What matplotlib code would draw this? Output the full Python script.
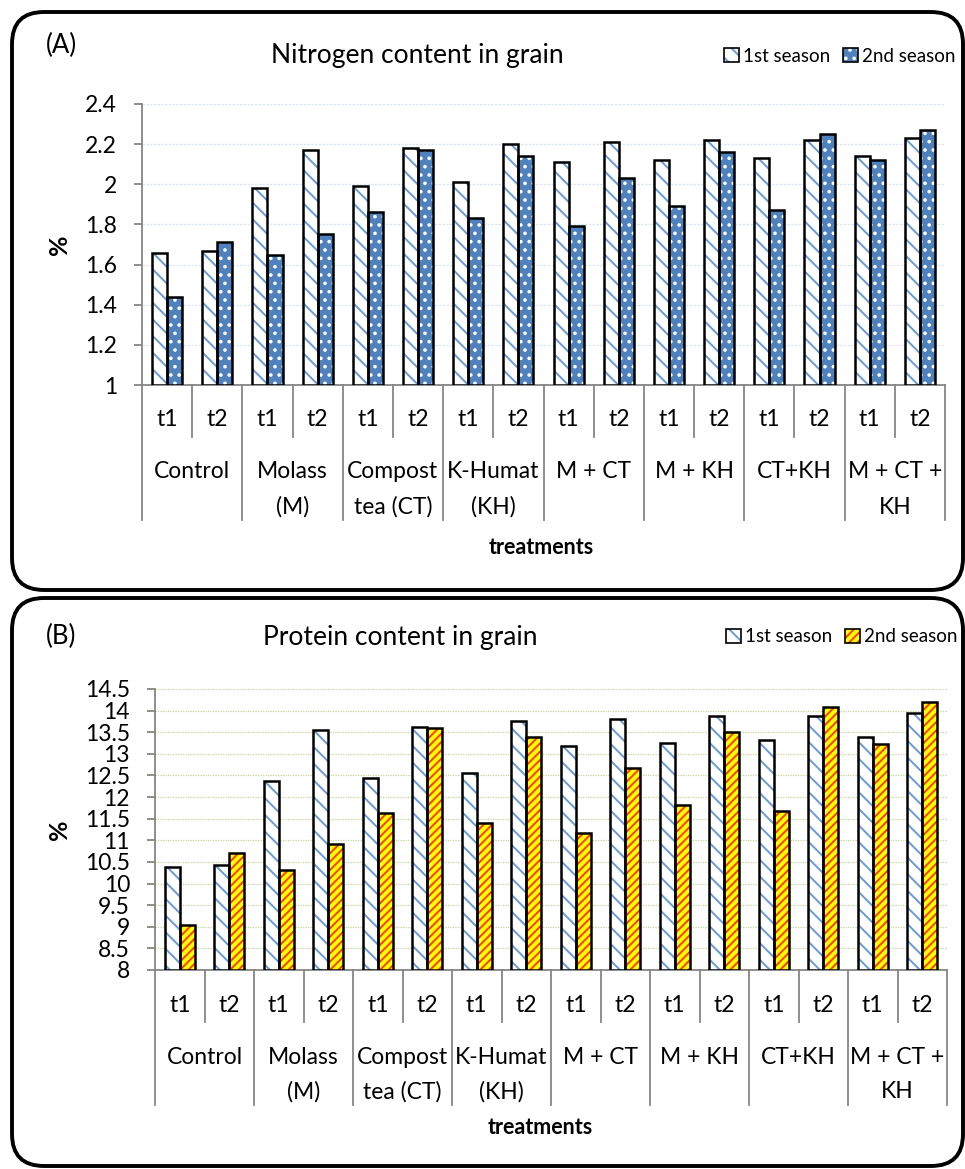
import matplotlib
matplotlib.use("Agg")
import matplotlib.pyplot as plt
import matplotlib.transforms as mtransforms
from matplotlib.patches import FancyBboxPatch, Patch
import numpy as np

plt.rcParams['font.family'] = ['Lato', 'DejaVu Sans']
plt.rcParams['hatch.linewidth'] = 1.4

# ---------------- data ----------------
groups = ["Control", "Molass\n(M)", "Compost\ntea (CT)", "K-Humat\n(KH)",
          "M + CT", "M + KH", "CT+KH", "M + CT +\nKH"]
times = ["t1", "t2"]
series_names = ["1st season", "2nd season"]

nitrogen_s1 = [1.66, 1.67, 1.98, 2.17, 1.99, 2.18, 2.01, 2.20,
               2.11, 2.21, 2.12, 2.22, 2.13, 2.22, 2.14, 2.23]
nitrogen_s2 = [1.44, 1.71, 1.65, 1.75, 1.86, 2.17, 1.83, 2.14,
               1.79, 2.03, 1.89, 2.16, 1.87, 2.25, 2.12, 2.27]

protein_s1 = [10.38, 10.44, 12.38, 13.56, 12.44, 13.63, 12.56, 13.75,
              13.19, 13.81, 13.25, 13.88, 13.31, 13.88, 13.38, 13.94]
protein_s2 = [9.03, 10.70, 10.31, 10.91, 11.63, 13.59, 11.41, 13.38,
              11.16, 12.67, 11.81, 13.51, 11.68, 14.09, 13.22, 14.19]

W, H = 965, 1169
fig = plt.figure(figsize=(W / 100, H / 100), dpi=100)

def fx(px):
    return px / W

def fy(py):
    return 1 - py / H

GRAY = '#868686'
FS = 16.5


def panel_box(x0, y0, x1, y1):
    box = FancyBboxPatch((x0, H - y1), x1 - x0, y1 - y0,
                         boxstyle="round,pad=0,rounding_size=32",
                         transform=mtransforms.IdentityTransform(),
                         facecolor='none', edgecolor='black', linewidth=2.8,
                         zorder=0)
    fig.add_artist(box)


def draw_panel(rect, s1, s2, ylim, yticks, yticklabels, grid_color, grid_ls,
               s1_style, s2_style):
    ax = fig.add_axes(rect)
    n = len(groups) * len(times)
    x = np.arange(n)
    bw = 0.3
    for vals, off, st in ((s1, -bw / 2, s1_style), (s2, bw / 2, s2_style)):
        ax.bar(x + off, np.array(vals) - ylim[0], bw, bottom=ylim[0],
               color=st['face'], edgecolor=st['hatchcolor'], hatch=st['hatch'],
               linewidth=0, zorder=3)
        ax.bar(x + off, np.array(vals) - ylim[0], bw, bottom=ylim[0],
               fill=False, edgecolor='black', linewidth=1.8, zorder=4)
    ax.set_xlim(-0.5, n - 0.5)
    ax.set_ylim(*ylim)
    ax.set_yticks(yticks)
    ax.set_yticklabels(yticklabels, fontsize=FS)
    ax.tick_params(axis='y', direction='out', length=6, width=1.3,
                   color=GRAY, pad=12)
    ax.set_xticks([])
    for s in ('top', 'right'):
        ax.spines[s].set_visible(False)
    for s in ('left', 'bottom'):
        ax.spines[s].set_color(GRAY)
        ax.spines[s].set_linewidth(1.3)
    ax.grid(axis='y', color=grid_color, linestyle=grid_ls, linewidth=0.9,
            zorder=1)
    ax.set_axisbelow(True)

    # multi-level category axis
    trans = mtransforms.blended_transform_factory(ax.transData,
                                                  mtransforms.IdentityTransform())
    bottom_disp = ax.transAxes.transform((0, 0))[1]
    for i in range(n + 1):
        xb = i - 0.5
        depth = 135 if i % 2 == 0 else 52
        ax.plot([xb, xb], [bottom_disp, bottom_disp - depth], transform=trans,
                color=GRAY, linewidth=1.3, clip_on=False, zorder=5)
    for i in range(n):
        ax.text(i, bottom_disp - 35, times[i % 2], transform=trans,
                ha='center', va='center', fontsize=FS)
    for g, name in enumerate(groups):
        for k, line in enumerate(name.split('\n')):
            ax.text(2 * g + 0.5, bottom_disp - 87 - 35 * k, line,
                    transform=trans, ha='center', va='center', fontsize=FS)
    return ax


def legend_at(handles, xpx, ypx):
    fig.legend(handles, series_names, loc='center left',
               bbox_to_anchor=(fx(xpx), fy(ypx)), ncol=2, frameon=False,
               fontsize=13.5, handlelength=0.8, handleheight=0.8,
               handletextpad=0.2, columnspacing=0.7, borderaxespad=0,
               borderpad=0)


# ---------------- panel A ----------------
panel_box(12, 12, 963, 590)
draw_panel([fx(142), fy(385), fx(945) - fx(142), fy(104) - fy(385)],
           nitrogen_s1, nitrogen_s2, (1, 2.4),
           [1, 1.2, 1.4, 1.6, 1.8, 2, 2.2, 2.4],
           ['1', '1.2', '1.4', '1.6', '1.8', '2', '2.2', '2.4'],
           '#dde6f0', (0, (2, 1)),
           dict(face='white', hatchcolor='#6a9bd4', hatch='\\\\'),
           dict(face='#4f81bd', hatchcolor='white', hatch='..'))
fig.text(fx(46), fy(45), '(A)', fontsize=18.5, ha='left', va='center')
fig.text(fx(417), fy(56), 'Nitrogen content in grain', fontsize=19,
         ha='center', va='center')
fig.text(fx(60), fy(245), '%', fontsize=18, fontweight='bold', rotation=90,
         ha='center', va='center')
fig.text(fx(541), fy(547), 'treatments', fontsize=15.5, fontweight='bold',
         ha='center', va='center')

hA = [(Patch(facecolor='white', edgecolor='#6a9bd4', hatch='\\\\', linewidth=0),
       Patch(fill=False, edgecolor='black', linewidth=1.2)),
      (Patch(facecolor='#4f81bd', edgecolor='white', hatch='..', linewidth=0),
       Patch(fill=False, edgecolor='black', linewidth=1.2))]
legend_at(hA, 724, 56)

# ---------------- panel B ----------------
panel_box(12, 598, 963, 1166)
draw_panel([fx(155), fy(970), fx(947) - fx(155), fy(689) - fy(970)],
           protein_s1, protein_s2, (8, 14.5),
           [8, 8.5, 9, 9.5, 10, 10.5, 11, 11.5, 12, 12.5, 13, 13.5, 14, 14.5],
           ['8', '8.5', '9', '9.5', '10', '10.5', '11', '11.5', '12',
            '12.5', '13', '13.5', '14', '14.5'],
           '#c3d69b', (0, (1, 1)),
           dict(face='white', hatchcolor='#6a9bd4', hatch='\\\\'),
           dict(face='#ffff00', hatchcolor='#ff3c00', hatch='////'))
fig.text(fx(46), fy(636), '(B)', fontsize=18.5, ha='left', va='center')
fig.text(fx(400), fy(637), 'Protein content in grain', fontsize=19,
         ha='center', va='center')
fig.text(fx(60), fy(830), '%', fontsize=18, fontweight='bold', rotation=90,
         ha='center', va='center')
fig.text(fx(540), fy(1128), 'treatments', fontsize=15.5, fontweight='bold',
         ha='center', va='center')

hB = [(Patch(facecolor='white', edgecolor='#6a9bd4', hatch='\\\\', linewidth=0),
       Patch(fill=False, edgecolor='black', linewidth=1.2)),
      (Patch(facecolor='#ffff00', edgecolor='#ff3c00', hatch='////', linewidth=0),
       Patch(fill=False, edgecolor='black', linewidth=1.2))]
legend_at(hB, 726, 637)

fig.savefig('out.png', dpi=100)
